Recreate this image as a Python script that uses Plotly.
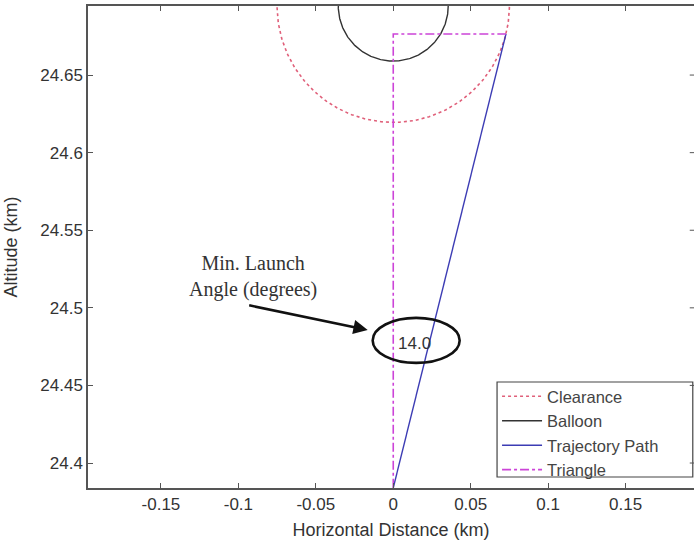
import numpy as np
import plotly.graph_objects as go

# Geometry of the launch problem (km)
balloon_center = (0.0, 24.6945)
balloon_radius = 0.0355
clearance_radius = 0.075

# Launch point and the point where the path meets the clearance circle
trajectory_x = [0.0, 0.0728]
trajectory_y = [24.384, 24.6765]
triangle_x = [0.0, 0.0, 0.0728]
triangle_y = [24.384, 24.6765, 24.6765]

min_launch_angle = 14.0

x_ticks = [-0.15, -0.1, -0.05, 0, 0.05, 0.1, 0.15]
x_tick_labels = ["-0.15", "-0.1", "-0.05", "0", "0.05", "0.1", "0.15"]
y_ticks = [24.4, 24.45, 24.5, 24.55, 24.6, 24.65]
y_tick_labels = ["24.4", "24.45", "24.5", "24.55", "24.6", "24.65"]

x_range = [-0.1971, 0.1942]
y_range = [24.3839, 24.6945]


def circle(center, radius, n=361):
    t = np.linspace(0, 2 * np.pi, n)
    return center[0] + radius * np.cos(t), center[1] + radius * np.sin(t)


cx, cy = circle(balloon_center, clearance_radius)
bx, by = circle(balloon_center, balloon_radius)

FONT = "Liberation Sans, Arial, sans-serif"
AXIS_COLOR = "#555555"

fig = go.Figure()
fig.add_trace(go.Scatter(x=cx, y=cy, mode="lines", name="Clearance",
                         line=dict(color="#e0607a", width=1.6, dash="dot")))
fig.add_trace(go.Scatter(x=bx, y=by, mode="lines", name="Balloon",
                         line=dict(color="#333333", width=1.4)))
fig.add_trace(go.Scatter(x=trajectory_x, y=trajectory_y, mode="lines",
                         name="Trajectory Path",
                         line=dict(color="#3c3cb4", width=1.4)))
fig.add_trace(go.Scatter(x=triangle_x, y=triangle_y, mode="lines",
                         name="Triangle",
                         line=dict(color="#cc44d8", width=1.6, dash="dashdot")))

# Ellipse highlighting the angle value
ell_x, ell_y = 0.0148, 24.479
fig.add_shape(type="circle", xref="x", yref="y",
              xsizemode="pixel", ysizemode="pixel",
              xanchor=ell_x, yanchor=ell_y,
              x0=-43.5, x1=43.5, y0=-22.5, y1=22.5,
              line=dict(color="#111111", width=2.6))

# Framed white box behind the legend entries
fig.add_shape(type="rect", xref="paper", yref="paper",
              x0=0.675, x1=0.998, y0=0.0228, y1=0.2199,
              fillcolor="white", layer="above",
              line=dict(color="#444444", width=1.2))

# Right-hand tick marks (no right axis line)
for yv in y_ticks:
    fig.add_shape(type="line", xref="paper", yref="y",
                  x0=0.993, x1=1.0, y0=yv, y1=yv,
                  line=dict(color=AXIS_COLOR, width=1))

fig.add_annotation(x=0.0135, y=24.4767, text=f"{min_launch_angle:.1f}",
                   showarrow=False, font=dict(family=FONT, size=17, color="#333333"))

fig.add_annotation(x=-0.0906, y=24.5205,
                   text="Min. Launch<br>Angle (degrees)",
                   showarrow=False,
                   font=dict(family="Liberation Serif, Times New Roman, serif",
                             size=20, color="#333333"))

fig.add_annotation(x=-0.0165, y=24.4857, ax=-120, ay=-25,
                   text="", showarrow=True, arrowhead=2, arrowsize=1.1,
                   arrowwidth=2.6, arrowcolor="#111111")

fig.update_layout(
    width=694, height=541,
    margin=dict(l=88, r=0, t=6, b=53),
    paper_bgcolor="white", plot_bgcolor="white",
    font=dict(family=FONT, size=17, color="#333333"),
    showlegend=True,
    legend=dict(x=0.675, y=0.226, xanchor="left", yanchor="top",
                bgcolor="rgba(0,0,0,0)", borderwidth=0,
                font=dict(family=FONT, size=16.5, color="#444444"),
                tracegroupgap=0, itemwidth=40),
)
fig.update_xaxes(range=x_range, tickvals=x_ticks, ticktext=x_tick_labels,
                 ticks="inside", ticklen=5, tickcolor=AXIS_COLOR,
                 showline=True, linecolor=AXIS_COLOR, linewidth=1.5,
                 mirror="ticks", showgrid=False, zeroline=False,
                 title=dict(text="Horizontal Distance (km)", standoff=10,
                            font=dict(size=18)))
fig.update_yaxes(range=y_range, tickvals=y_ticks, ticktext=y_tick_labels,
                 ticks="inside", ticklen=5, tickcolor=AXIS_COLOR,
                 showline=True, linecolor=AXIS_COLOR, linewidth=1.5,
                 mirror=False, showgrid=False, zeroline=False,
                 title=dict(text="Altitude (km)", standoff=18,
                            font=dict(size=18)))

fig.write_html("out.html")
